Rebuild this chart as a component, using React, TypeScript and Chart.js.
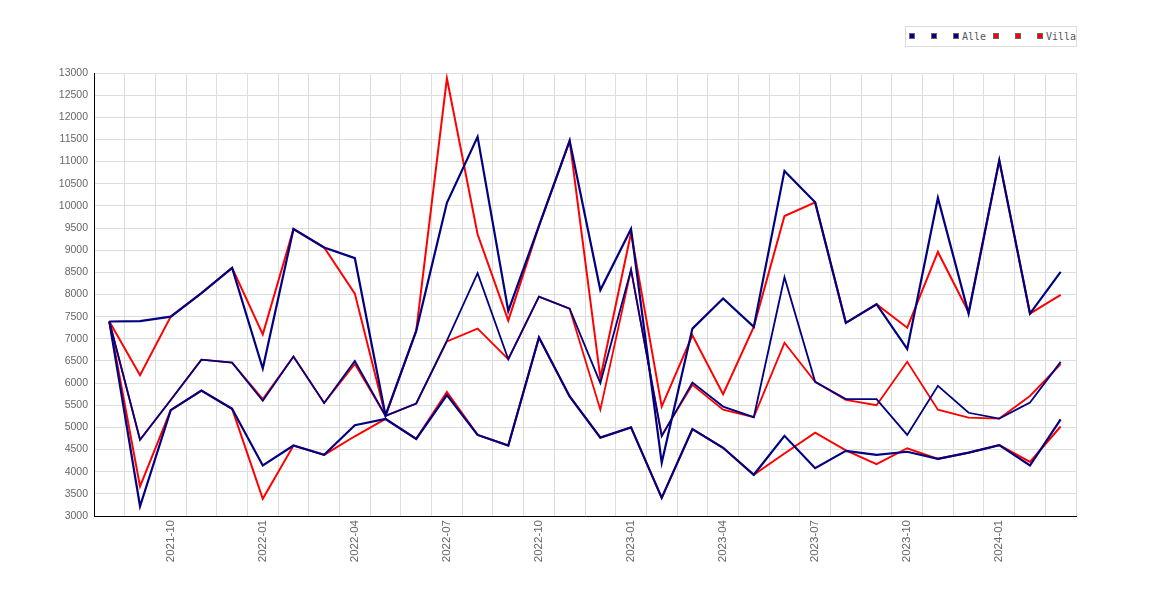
import { useEffect, useRef } from "react"
import { Chart, registerables } from "chart.js"

Chart.register(...registerables)

// months 2021-08 .. 2024-03
const months = [
  "2021-08", "2021-09", "2021-10", "2021-11", "2021-12",
  "2022-01", "2022-02", "2022-03", "2022-04", "2022-05", "2022-06",
  "2022-07", "2022-08", "2022-09", "2022-10", "2022-11", "2022-12",
  "2023-01", "2023-02", "2023-03", "2023-04", "2023-05", "2023-06",
  "2023-07", "2023-08", "2023-09", "2023-10", "2023-11", "2023-12",
  "2024-01", "2024-02", "2024-03",
]

const alleHigh = [
  7390, 7400, 7500, 8030, 8600, 6330, 9480, 9060, 8820, 5270, 7180,
  10070, 11560, 7630, 9550, 11470, 8100, 9480, 4200, 7230, 7910, 7270,
  10790, 10080, 7360, 7780, 6770, 10180, 7570, 11030, 7570, 8510,
]
const alleMid = [
  7390, 4720, 5620, 6530, 6460, 5600, 6600, 5550, 6500, 5260, 5540,
  6960, 8480, 6540, 7950, 7680, 6000, 8560, 4800, 6010, 5470, 5230,
  8390, 6030, 5640, 5640, 4830, 5940, 5330, 5200, 5560, 6480,
]
const alleLow = [
  7390, 3220, 5390, 5830, 5420, 4140, 4590, 4380, 5050, 5190, 4740,
  5730, 4830, 4590, 7030, 5700, 4770, 5000, 3410, 4960, 4540, 3930,
  4810, 4080, 4470, 4380, 4450, 4290, 4430, 4600, 4140, 5180,
]
const villaHigh = [
  7390, 6180, 7500, 8030, 8600, 7100, 9480, 9060, 8020, 5260, 7180,
  12880, 9360, 7410, 9550, 11470, 6120, 9390, 5470, 7080, 5750, 7270,
  9770, 10080, 7360, 7780, 7250, 8960, 7600, 11030, 7570, 7990,
]
const villaMid = [
  7390, 4720, 5620, 6530, 6460, 5640, 6600, 5550, 6430, 5260, 5540,
  6940, 7230, 6540, 7950, 7680, 5400, 8560, 4820, 5960, 5400, 5230,
  6910, 6030, 5620, 5500, 6480, 5400, 5220, 5200, 5710, 6430,
]
const villaLow = [
  7390, 3670, 5390, 5830, 5420, 3390, 4590, 4380, 4800, 5190, 4740,
  5800, 4830, 4590, 7030, 5700, 4770, 5000, 3410, 4960, 4540, 3930,
  4410, 4880, 4480, 4170, 4530, 4290, 4430, 4600, 4220, 5020,
]

const NAVY = "#000080"
const RED = "#ff0000"

const legendItems = [
  { color: NAVY, label: "" },
  { color: NAVY, label: "" },
  { color: NAVY, label: "Alle" },
  { color: RED, label: "" },
  { color: RED, label: "" },
  { color: RED, label: "Villa" },
]

function Legend() {
  const xs = [909, 931, 953, 993, 1015, 1037]
  return (
    <div>
      <div
        style={{
          position: "absolute",
          left: 905,
          top: 26,
          width: 170,
          height: 19,
          border: "1px solid #dddddd",
          background: "#fff",
        }}
      />
      {legendItems.map((it, i) => (
        <div key={i}>
          <div
            style={{
              position: "absolute",
              left: xs[i],
              top: 33,
              width: 4,
              height: 4,
              background: it.color,
              border: "1px solid #666",
            }}
          />
          {it.label && (
            <span
              style={{
                position: "absolute",
                left: xs[i] + 9,
                top: 30,
                fontFamily: "'DejaVu Sans Mono', monospace",
                fontSize: 10,
                lineHeight: "14px",
                color: "#555",
                whiteSpace: "nowrap",
              }}
            >
              {it.label}
            </span>
          )}
        </div>
      ))}
    </div>
  )
}

export default function App() {
  const chartRef = useRef<HTMLCanvasElement>(null)
  const chartInstance = useRef<Chart | null>(null)

  useEffect(() => {
    if (!chartRef.current) return
    if (chartInstance.current) chartInstance.current.destroy()

    const line = (data: number[], color: string, width: number) => ({
      data,
      borderColor: color,
      backgroundColor: color,
      borderWidth: width,
      pointRadius: 0,
      tension: 0,
      fill: false,
    })

    const ctx = chartRef.current.getContext("2d")
    if (!ctx) return
    chartInstance.current = new Chart(ctx, {
      type: "line",
      data: {
        labels: months,
        datasets: [
          { label: "", ...line(alleHigh, NAVY, 2.2) },
          { label: "", ...line(alleMid, NAVY, 1.8) },
          { label: "Alle", ...line(alleLow, NAVY, 2.2) },
          { label: "", ...line(villaHigh, RED, 2) },
          { label: "", ...line(villaMid, RED, 1.8) },
          { label: "Villa", ...line(villaLow, RED, 2) },
        ],
      },
      options: {
        responsive: false,
        animation: false,
        layout: { padding: { left: 0, right: 94, top: 73, bottom: 0 } },
        plugins: {
          legend: { display: false },
          tooltip: { enabled: false },
        },
        scales: {
          x: {
            type: "category",
            offset: true,
            grid: { color: "#dddddd", offset: true, drawTicks: false },
            border: { color: "#000" },
            ticks: {
              autoSkip: false,
              minRotation: 90,
              maxRotation: 90,
              padding: 4,
              color: "#666",
              font: { family: "'Liberation Sans', Arial, sans-serif", size: 11.5 },
              callback: (_v, i) => {
                const m = months[i]
                const mm = m.slice(5)
                return ["01", "04", "07", "10"].includes(mm) ? m : ""
              },
            },
            afterFit: (s) => {
              s.height = 84
            },
          },
          y: {
            min: 3000,
            max: 13000,
            grid: { color: "#dddddd", drawTicks: false },
            border: { color: "#000" },
            ticks: {
              stepSize: 500,
              padding: 6,
              color: "#666",
              font: { family: "'Liberation Sans', Arial, sans-serif", size: 10.5 },
              callback: (v) => String(v),
            },
            afterFit: (s) => {
              s.width = 94
            },
          },
        },
      },
    })

    return () => {
      if (chartInstance.current) {
        chartInstance.current.destroy()
        chartInstance.current = null
      }
    }
  }, [])

  return (
    <div style={{ position: "absolute", left: 0, top: 0, width: 1170, height: 600, background: "#fff" }}>
      <canvas ref={chartRef} width={1170} height={600} />
      <Legend />
    </div>
  )
}
